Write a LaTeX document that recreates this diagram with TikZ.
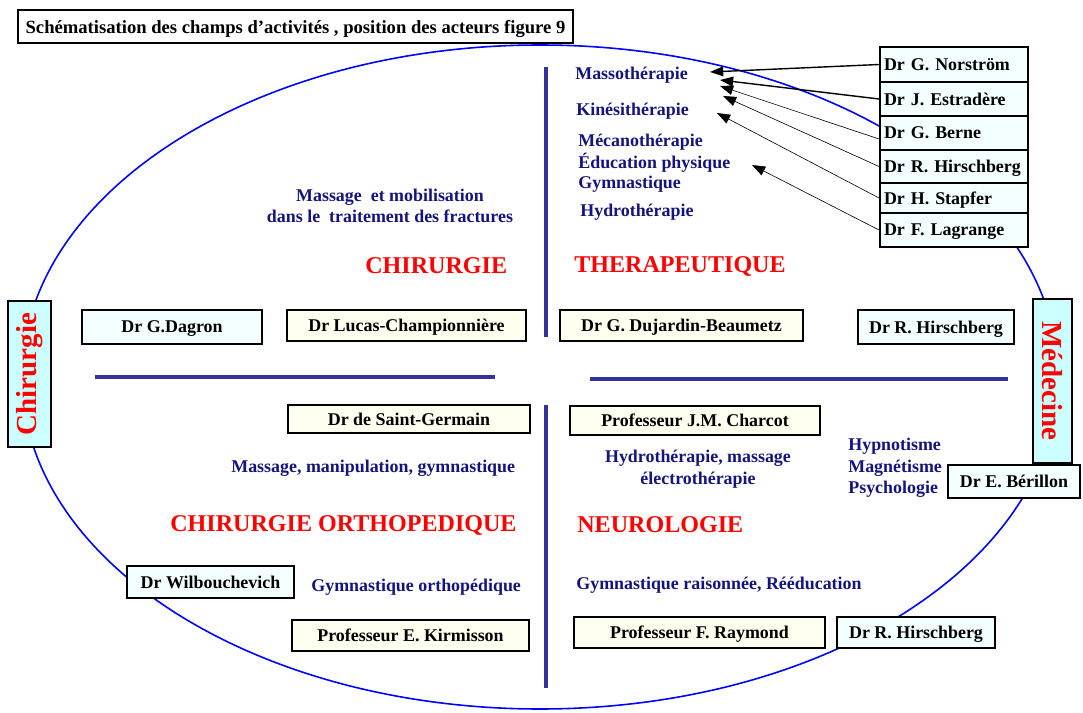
\documentclass[tikz,border=0pt]{standalone}
\usepackage{fontspec}
\setmainfont{Liberation Serif}
\usetikzlibrary{arrows.meta}
\definecolor{navy}{HTML}{141480}
\definecolor{axisblue}{HTML}{333399}
\definecolor{boxcyan}{HTML}{F4FFFF}
\definecolor{boxyellow}{HTML}{FFFFF0}
\definecolor{tabcyan}{HTML}{CCFFFF}
\begin{document}
\begin{tikzpicture}[x=0.02cm,y=-0.02cm,
  bw/.style={minimum width=#1*0.02cm},
  bh/.style={minimum height=#1*0.02cm},
  box/.style={draw, line width=1.1pt, inner sep=0pt, text=black, text depth=0pt,
    font=\bfseries\fontsize{10.2}{12}\selectfont},
  cbox/.style={box, fill=boxcyan},
  ybox/.style={box, fill=boxyellow},
  stk/.style={cbox, bw=148, text width=140*0.02cm, align=left, inner xsep=4*0.02cm},
  tab/.style={draw, line width=0.6pt, fill=tabcyan, inner sep=0pt, text=red,
    font=\bfseries\fontsize{16.5}{18}\selectfont},
  lab/.style={text=navy, inner sep=0pt, yshift=-2*0.02cm,
    font=\bfseries\fontsize{10.2}{12.2}\selectfont},
  head/.style={text=red, inner sep=0pt, yshift=-2*0.02cm,
    font=\bfseries\fontsize{13.7}{16}\selectfont},
  axis/.style={axisblue, line width=2.3pt},
  thickarr/.style={line width=0.8pt, -{Triangle[length=7.5pt,width=5.5pt]}},
  thinarr/.style={line width=0.35pt, -{Triangle[length=7.5pt,width=5.5pt]}}]

\useasboundingbox (0,0) rectangle (1083,713);

% field boundary
\draw[blue, line width=0.9pt] (540,377) ellipse [x radius=518, y radius=332];

% quadrant axes
\draw[axis] (546,67) -- (546,337);
\draw[axis] (546,405) -- (546,688);
\draw[axis] (95,377) -- (495,377);
\draw[axis] (590,379) -- (1008,379);

% title
\node[box, fill=white, bw=555, bh=33, font=\bfseries\fontsize{10.6}{12}\selectfont]
  (title) at (295.5,26.5)
  {Schématisation des champs d’activités , position des acteurs figure 9};

% side tabs
\node[tab, rotate=90, bw=146, bh=43] (chir) at (29.5,374) {Chirurgie};
\node[tab, rotate=-90, bw=164, bh=39] (med) at (1052.5,381) {Médecine};

% therapeutic techniques
\node[lab, anchor=west] (masso) at (575,73) {Massothérapie};
\node[lab, anchor=west] (kine) at (576,109) {Kinésithérapie};
\node[lab, anchor=west] (meca) at (578,140) {Mécanothérapie};
\node[lab, anchor=west] (educ) at (578,161) {Éducation physique};
\node[lab, anchor=west] (gym) at (578,182) {Gymnastique};
\node[lab, anchor=west] (hydro) at (580,210) {Hydrothérapie};

\node[lab, align=center] (fract) at (390,204)
  {Massage\ \ et mobilisation\\dans le\ \ traitement des fractures};
\node[lab, anchor=west] (manip) at (231,466) {Massage, manipulation, gymnastique};
\node[lab, align=center] (elec) at (698,467) {Hydrothérapie, massage\\électrothérapie};
\node[lab, align=left, anchor=west, font=\bfseries\fontsize{10.2}{12.3}\selectfont]
  (hypno) at (848,466) {Hypnotisme\\Magnétisme\\Psychologie};
\node[lab, anchor=west] (gymortho) at (311,585) {Gymnastique orthopédique};
\node[lab, anchor=west] (gymrais) at (576,583) {Gymnastique raisonnée, Rééducation};

% fields
\node[head, anchor=west] (hchir) at (365,264) {CHIRURGIE};
\node[head, anchor=west] (hther) at (574,264) {THERAPEUTIQUE};
\node[head, anchor=west] (hortho) at (170,523) {CHIRURGIE ORTHOPEDIQUE};
\node[head, anchor=west] (hneuro) at (577,523) {NEUROLOGIE};

% actors
\node[cbox, bw=180, bh=34] (dagron) at (172,327) {Dr G.Dagron};
\node[ybox, bw=239, bh=31] (lucas) at (406.5,325.5) {Dr Lucas-Championnière};
\node[ybox, bw=243, bh=31] (dujardin) at (681.5,325.5) {Dr G. Dujardin-Beaumetz};
\node[cbox, bw=156, bh=34] (hirschA) at (936,327) {Dr R. Hirschberg};
\node[ybox, bw=242, bh=28] (stgermain) at (409,419) {Dr de Saint-Germain};
\node[ybox, bw=250, bh=29] (charcot) at (695,420.5) {Professeur J.M. Charcot};
\node[cbox, bw=132, bh=33] (berillon) at (1014,481.5) {Dr E. Bérillon};
\node[cbox, bw=167, bh=32] (wilbou) at (210.5,582) {Dr Wilbouchevich};
\node[ybox, bw=237, bh=31] (kirmisson) at (410.5,635.5) {Professeur E. Kirmisson};
\node[ybox, bw=251, bh=31] (raymond) at (699.5,632.5) {Professeur F. Raymond};
\node[cbox, bw=158, bh=31] (hirschB) at (916,632.5) {Dr R. Hirschberg};

% stacked actors of the therapeutic field
\node[stk, bh=35] (norstrom) at (954,64.5) {Dr G. Norström};
\node[stk, bh=34] (estradere) at (954,99) {Dr J. Estradère};
\node[stk, bh=34] (berne) at (954,133) {Dr G. Berne};
\node[stk, bh=33] (hirschC) at (954,166.5) {Dr R. Hirschberg};
\node[stk, bh=30] (stapfer) at (954,198) {Dr H. Stapfer};
\node[stk, bh=34] (lagrange) at (954,230) {Dr F. Lagrange};

% arrow targets near the techniques
\coordinate (tA) at (710,72);
\coordinate (tB) at (720,80);
\coordinate (tC) at (720,86);
\coordinate (tD) at (723,96);
\coordinate (tE) at (717,113);
\coordinate (tF) at (752,165);

\draw[thickarr] (norstrom.west) -- (tA);
\draw[thickarr] (estradere.west) -- (tB);
\draw[thinarr] ([yshift=-6*0.02cm]berne.west) -- (tC);
\draw[thinarr] (hirschC.west) -- (tD);
\draw[thinarr] (stapfer.west) -- (tE);
\draw[thinarr] (lagrange.west) -- (tF);
\end{tikzpicture}
\end{document}
